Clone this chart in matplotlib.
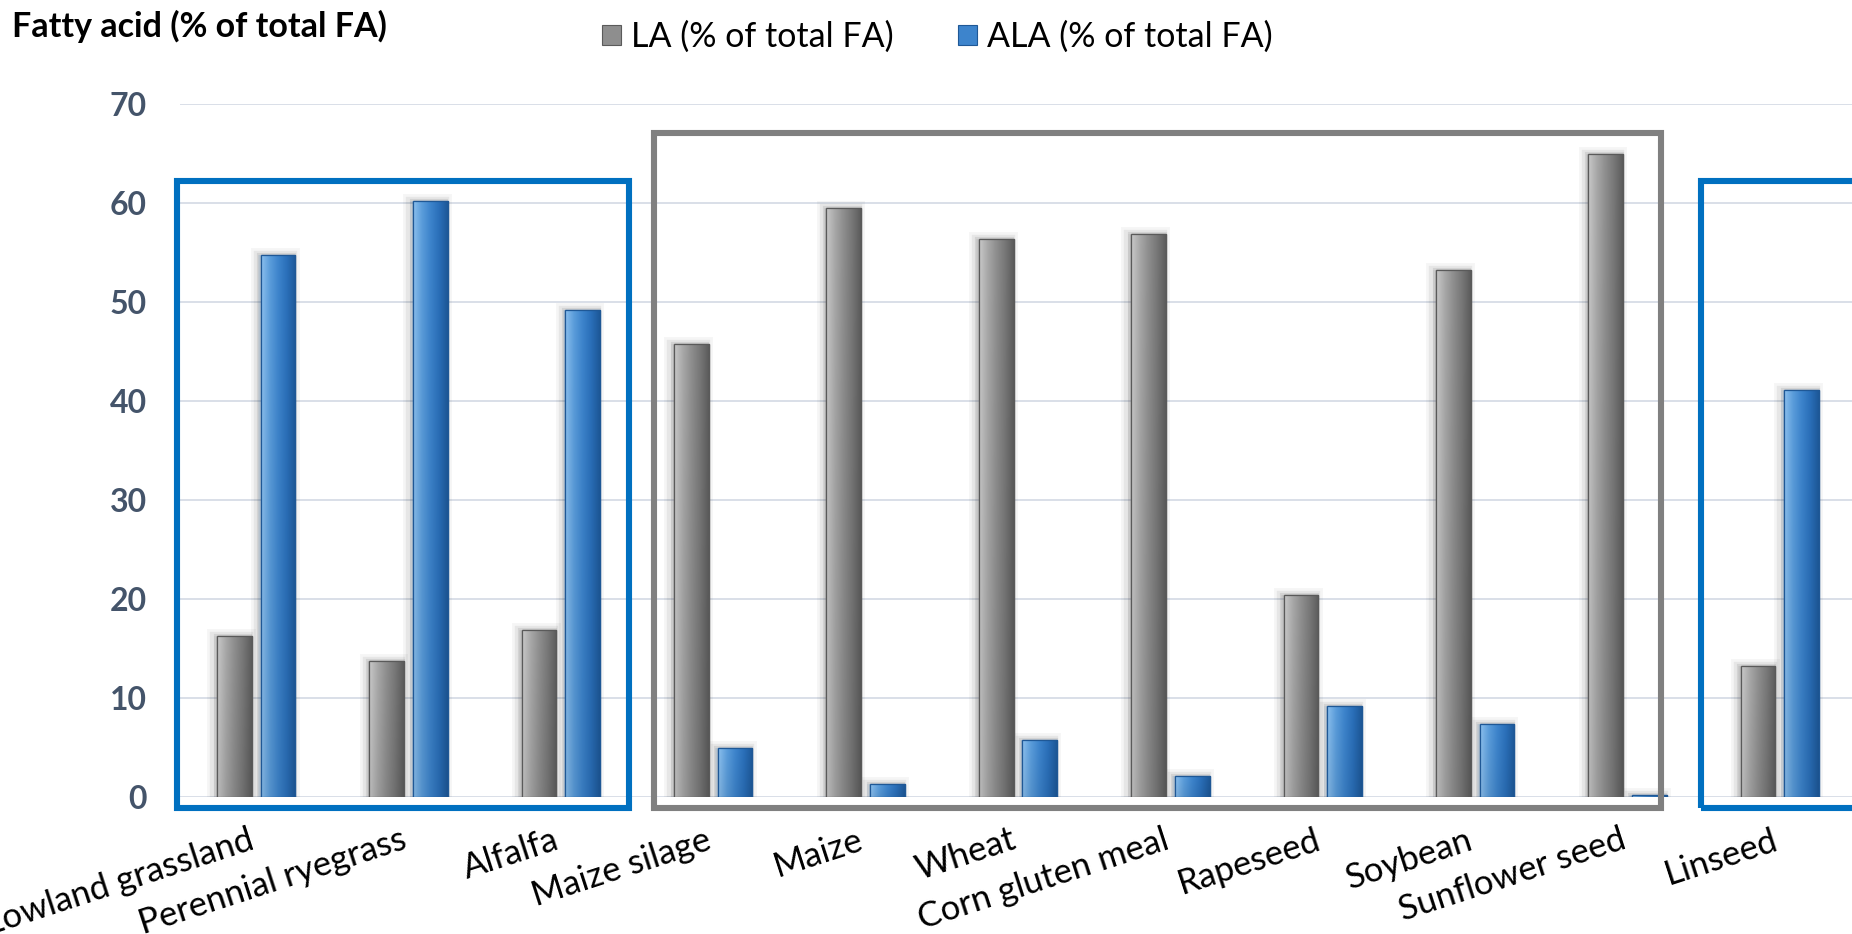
import numpy as np
import matplotlib
matplotlib.use("Agg")
import matplotlib.pyplot as plt
from matplotlib.patches import Rectangle, Patch
import matplotlib.patheffects as pe
from matplotlib.colors import to_rgb

# ---- data -------------------------------------------------------------
categories = ["Lowland grassland", "Perennial ryegrass", "Alfalfa",
              "Maize silage", "Maize", "Wheat", "Corn gluten meal",
              "Rapeseed", "Soybean", "Sunflower seed", "Linseed"]
la_values = [16.3, 13.7, 16.9, 45.8, 59.5, 56.4, 56.9, 20.4, 53.2, 65.0, 13.2]
ala_values = [54.7, 60.2, 49.2, 5.0, 1.3, 5.8, 2.1, 9.2, 7.4, 0.2, 41.1]
series_names = ["LA (% of total FA)", "ALA (% of total FA)"]
y_ticks = [0, 10, 20, 30, 40, 50, 60, 70]
axis_title = "Fatty acid (% of total FA)"

# ---- style ------------------------------------------------------------
FONT = "Lato"
plt.rcParams["font.family"] = [FONT, "DejaVu Sans"]

GREY_STOPS = ["#c9c9c9", "#a8a8a8", "#8e8e8e", "#777777", "#5c5c5c"]
BLUE_STOPS = ["#8cc0ee", "#5b9ddb", "#3d84cc", "#2a6fb9", "#1d5898"]
GREY_EDGE = "#5a5a5a"
BLUE_EDGE = "#1f5896"
GRID = "#d9dfe8"
TICK_COLOR = "#44546a"

W, H, DPI = 1852, 934, 100
fig = plt.figure(figsize=(W / DPI, H / DPI), dpi=DPI)
ax = fig.add_axes([180 / W, 1 - 797 / H, 1676 / W, 693 / H])

x = np.arange(len(categories))
bar_w = 0.228
off = 0.143


def gradient_image(stops, n=64):
    cols = np.array([to_rgb(c) for c in stops])
    pos = np.linspace(0, 1, len(cols))
    t = np.linspace(0, 1, n)
    row = np.stack([np.interp(t, pos, cols[:, k]) for k in range(3)], axis=-1)
    # slight darkening toward the bottom of the bar
    shade = np.linspace(1.0, 0.93, 32)[:, None, None]
    return np.clip(row[None, :, :] * shade, 0, 1)


shadow = [pe.Stroke(linewidth=10, foreground="#000000", alpha=0.04, offset=(-2, 0)),
          pe.Stroke(linewidth=6, foreground="#000000", alpha=0.06, offset=(-2, 0)),
          pe.Stroke(linewidth=3, foreground="#000000", alpha=0.08, offset=(-1, 0)),
          pe.Normal()]

series = [(la_values, -off, GREY_STOPS, GREY_EDGE),
          (ala_values, off, BLUE_STOPS, BLUE_EDGE)]

for vals, dx, stops, edge in series:
    bars = ax.bar(x + dx, vals, width=bar_w, color=stops[2], edgecolor=edge,
                  linewidth=0.9, zorder=3)
    img = gradient_image(stops)
    for b in bars:
        b.set_path_effects(shadow)
        x0, w, h = b.get_x(), b.get_width(), b.get_height()
        im = ax.imshow(img, extent=(x0, x0 + w, 0, h), origin="upper",
                       aspect="auto", interpolation="bilinear", zorder=3.5)
        im.set_clip_path(b)
        # thin outline on top of the gradient
        ax.add_patch(Rectangle((x0, 0), w, h, fill=False, edgecolor=edge,
                               linewidth=0.9, zorder=3.6))

ax.set_xlim(-0.5, len(categories) - 0.5)
ax.set_ylim(0, 70)
ax.set_aspect("auto")

# gridlines
ax.set_yticks(y_ticks)
ax.yaxis.grid(True, color=GRID, linewidth=1.4, zorder=0)
ax.set_axisbelow(True)
for s in ax.spines.values():
    s.set_visible(False)

ax.tick_params(axis="y", length=0, pad=24, labelsize=23, labelcolor=TICK_COLOR)
for lab in ax.get_yticklabels():
    lab.set_fontweight("bold")

ax.set_xticks(x)
ax.set_xticklabels(categories, rotation=18, ha="right", rotation_mode="anchor",
                   va="baseline", fontsize=25, color="black")
ax.tick_params(axis="x", length=0, pad=37)

# group frames: forage sources, grains/oilseeds, linseed
frames = [(-0.52, 2.45, 62.25, "#0070c0"),
          (2.61, 9.22, 67.1, "#808080"),
          (9.48, 10.75, 62.25, "#0070c0")]
for x0, x1, top, col in frames:
    ax.add_patch(Rectangle((x0, -1.1), x1 - x0, top + 1.1, fill=False,
                           edgecolor=col, linewidth=4.4, clip_on=False,
                           zorder=4, joinstyle="miter"))

# axis title in the top-left corner
fig.text(12 / W, 1 - 10 / H, axis_title, ha="left", va="top",
         fontsize=24.5, fontweight="bold", color="black")

# legend
handles = [Patch(facecolor=GREY_STOPS[2], edgecolor=GREY_EDGE, linewidth=0.8),
           Patch(facecolor=BLUE_STOPS[2], edgecolor=BLUE_EDGE, linewidth=0.8)]
fig.legend(handles, series_names, loc="center left",
           bbox_to_anchor=(602 / W, 1 - 37 / H), ncol=2, frameon=False,
           fontsize=24.5, handlelength=0.55, handleheight=0.55,
           handletextpad=0.3, columnspacing=1.9, borderaxespad=0, borderpad=0)

fig.savefig("out.png", dpi=DPI)
